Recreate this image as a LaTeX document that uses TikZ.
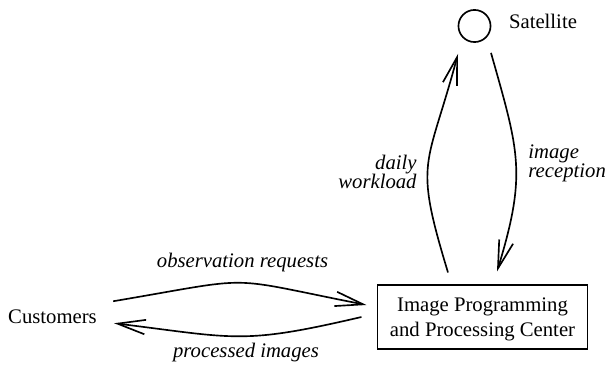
\documentclass[tikz,border=0pt]{standalone}
\usepackage{fontspec}
\setmainfont{Liberation Serif}
\usetikzlibrary{arrows.meta,calc}
\tikzstyle{flowArrow} = [line width=.8pt, -{Straight Barb[length=13.5pt,width=7pt]}]
\tikzstyle{flowLabel} = [font=\itshape, inner sep=0pt]
\tikzstyle{actorText} = [inner sep=0pt]
\tikzstyle{centerBox} = [draw, line width=.5pt, minimum width=101pt, minimum height=30.9pt, align=center, text depth=0pt]
\begin{document}
\begin{tikzpicture}[x=0.483pt, y=-0.483pt]
  \useasboundingbox (0,0) rectangle (610,368);
  % actors
  \node [actorText, anchor=base] (customers) at (52.5,323) {Customers};
  \node [draw, circle, line width=.8pt, minimum size=15.5pt, inner sep=0pt] (satellite) at (474.5,26) {};
  \node [actorText, anchor=base] (satelliteText) at (543,29) {Satellite};
  \node [centerBox] (ippc) at (482.5,317) {Image Programming\\and Processing Center};
  % flows
  \draw [flowArrow] ($(customers.east)+(16,-15)$) .. controls +(148,-25) and +(-147,-29) .. ($(ippc.west)+(-11,-12)$);
  \draw [flowArrow] ($(ippc.west)+(-16,0)$) .. controls +(-120,28) and +(122,15) .. ($(customers.east)+(17,7)$);
  \draw [flowArrow] ($(ippc.north)+(-34.5,-12)$) .. controls +(-35,-115) and +(-31,116) .. ($(satellite.south)+(-16.5,11)$);
  \draw [flowArrow] ($(satellite.south)+(16.5,10)$) .. controls +(28,99) and +(30,-98) .. ($(ippc.north)+(14.5,-13)$);
  % labels
  \node [flowLabel, anchor=base] (requestsText) at (242.5,267) {observation requests};
  \node [flowLabel, anchor=base] (imagesText) at (246,357) {processed images};
  \node [flowLabel, align=right, anchor=east] (workloadText) at (417,171.5) {daily\\[-2.8pt]workload};
  \node [flowLabel, align=left, anchor=west] (receptionText) at (528,163) {image\\[-2.8pt]reception};
\end{tikzpicture}
\end{document}
